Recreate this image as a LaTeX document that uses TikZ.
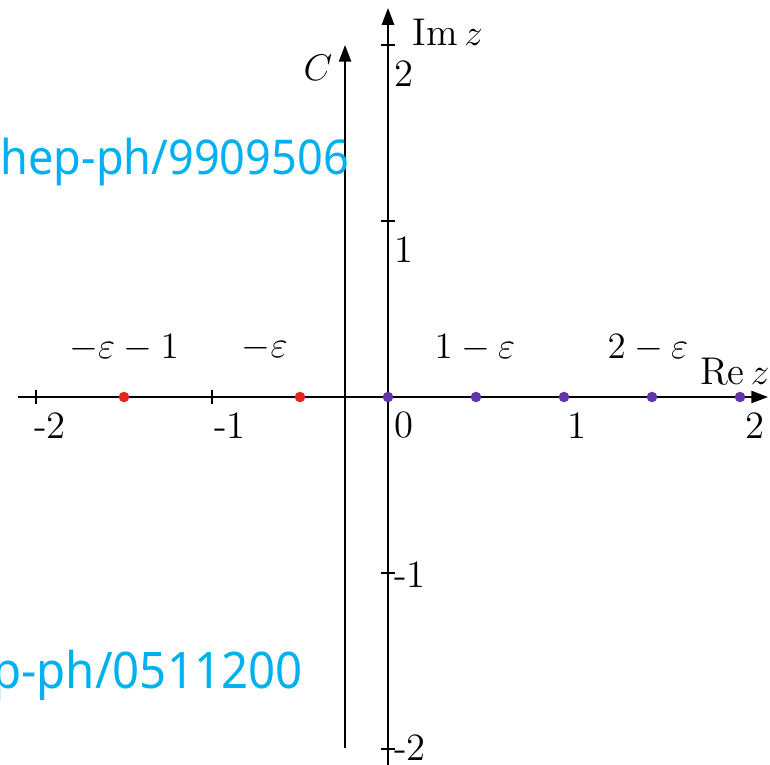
\documentclass[tikz,border=0pt]{standalone}
\usepackage{fontspec}
\newfontfamily\arxivfont[FakeStretch=0.94]{Noto Sans}
\usetikzlibrary{arrows.meta}
\definecolor{arxivblue}{RGB}{0,176,240}
\definecolor{poler}{RGB}{226,38,28}
\definecolor{polep}{RGB}{98,52,172}
\tikzset{
  axis/.style={line width=0.5pt,-{Triangle[length=1.9mm,width=1.4mm]}},
  lbl/.style={inner sep=0pt,font=\fontsize{12.5}{15}\selectfont},
  tag/.style={inner sep=0pt,text=arxivblue,font=\arxivfont\fontsize{15.5}{18}\selectfont},
}
\begin{document}
\begin{tikzpicture}[x=2cm,y=2cm]
  \clip (-2.2045,-2.0852) rectangle (2.1705,2.2557);
  % axes and contour
  \draw[axis] (-2.102,0) -- (2.159,0);
  \draw[axis] (0,-2.1) -- (0,2.21);
  \draw[axis] (-0.244,-1.994) -- (-0.244,2.0);
  % ticks
  \draw[line width=0.5pt] (-2,-0.04) -- (-2,0.04);
  \draw[line width=0.5pt] (-1,-0.04) -- (-1,0.04);
  \draw[line width=0.5pt] (-0.04,1) -- (0.04,1);
  \draw[line width=0.5pt] (-0.04,2) -- (0.04,2);
  \draw[line width=0.5pt] (-0.04,-1) -- (0.04,-1);
  \draw[line width=0.5pt] (-0.04,-2) -- (0.04,-2);
  % poles
  \fill[poler] (-1.5,0) circle (0.03);
  \fill[poler] (-0.5,0) circle (0.03);
  \fill[polep] (0,0) circle (0.03);
  \fill[polep] (0.5,0) circle (0.03);
  \fill[polep] (1,0) circle (0.03);
  \fill[polep] (1.5,0) circle (0.03);
  \fill[polep] (2,0) circle (0.03);
  % tick labels
  \node[lbl] (xm2) at (-1.92,-0.16) {-2};
  \node[lbl] (xm1) at (-0.898,-0.16) {-1};
  \node[lbl] (x0) at (0.09,-0.16) {0};
  \node[lbl] (x1) at (1.074,-0.16) {1};
  \node[lbl] (x2) at (2.085,-0.16) {2};
  \node[lbl] (y2) at (0.09,1.84) {2};
  \node[lbl] (y1) at (0.09,0.835) {1};
  \node[lbl] (ym1) at (0.125,-1.01) {-1};
  \node[lbl] (ym2) at (0.125,-1.994) {-2};
  \node[lbl] (imz) at (0.34,2.074) {$\mathrm{Im}\,z$};
  \node[lbl] (rez) at (1.97,0.142) {$\mathrm{Re}\,z$};
  \node[lbl] (cont) at (-0.398,1.87) {$C$};
  % pole labels
  \node[lbl] (p1) at (-1.5,0.278) {$-\varepsilon-1$};
  \node[lbl] (p2) at (-0.7,0.278) {$-\varepsilon$};
  \node[lbl] (p3) at (0.494,0.278) {$1-\varepsilon$};
  \node[lbl] (p4) at (1.477,0.278) {$2-\varepsilon$};
  % arXiv tags
  \node[tag,anchor=west] (tag1) at (-2.2045,1.335) {hep-ph/9909506};
  \node[tag,anchor=east,font=\arxivfont\fontsize{16.3}{19}\selectfont] (tag2) at (-0.482,-1.58) {hep-ph/0511200};
\end{tikzpicture}
\end{document}
